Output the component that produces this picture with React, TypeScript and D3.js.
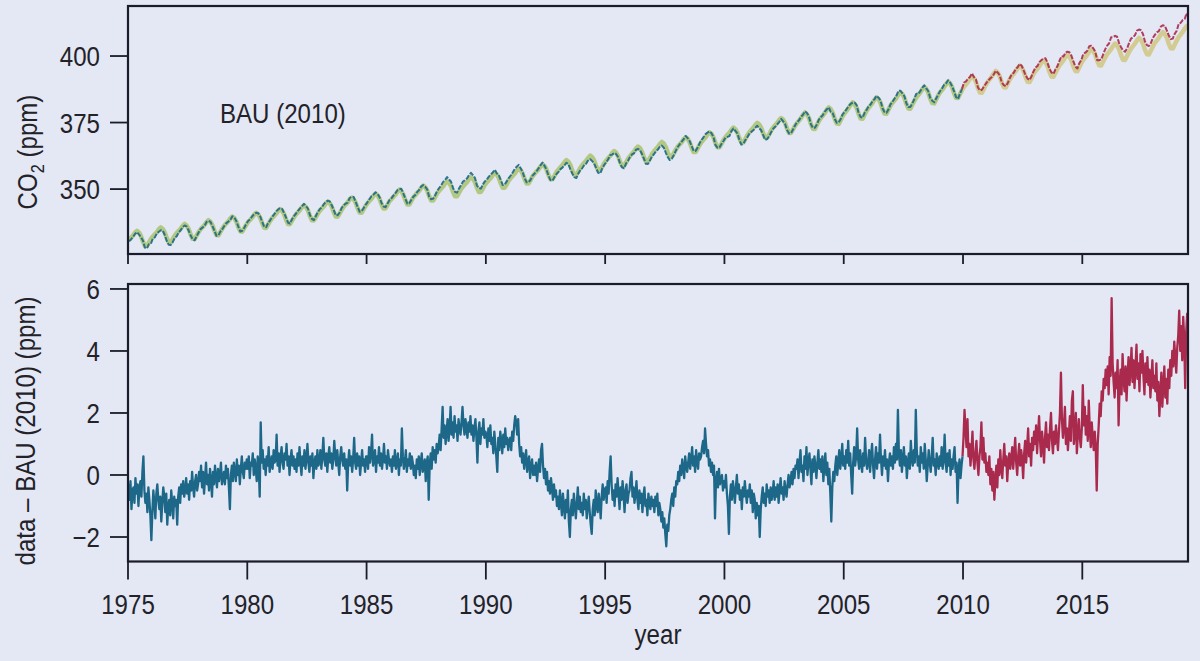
import React from "react";
import * as d3 from "d3";

const START_YEAR = 1975;
const SPLIT_YEAR = 2010;

// BAU (2010) model, monthly values (ppm), one row per year, Jan..Dec
const bauMonthly: number[] = [
  330.9, 331.7, 332.5, 333.6, 334.3, 333.7, 332.4, 330.3, 328.7, 328.6, 329.9, 331.2,
  332.2, 333.0, 333.8, 334.9, 335.6, 335.0, 333.7, 331.6, 330.0, 329.9, 331.2, 332.5,
  333.5, 334.3, 335.1, 336.2, 336.9, 336.3, 335.0, 332.9, 331.3, 331.2, 332.5, 333.8,
  334.9, 335.7, 336.5, 337.6, 338.3, 337.7, 336.4, 334.3, 332.7, 332.6, 333.9, 335.2,
  336.3, 337.1, 337.9, 339.0, 339.7, 339.1, 337.8, 335.7, 334.1, 334.0, 335.3, 336.6,
  337.7, 338.5, 339.3, 340.4, 341.1, 340.5, 339.2, 337.1, 335.5, 335.4, 336.7, 338.0,
  339.1, 339.9, 340.7, 341.8, 342.5, 341.9, 340.6, 338.5, 336.9, 336.8, 338.1, 339.4,
  340.5, 341.3, 342.1, 343.2, 343.9, 343.3, 342.0, 339.9, 338.3, 338.2, 339.5, 340.8,
  341.9, 342.7, 343.5, 344.6, 345.3, 344.7, 343.4, 341.3, 339.7, 339.6, 340.9, 342.2,
  343.4, 344.2, 345.0, 346.1, 346.8, 346.2, 344.9, 342.8, 341.2, 341.1, 342.4, 343.7,
  344.7, 345.6, 346.4, 347.5, 348.3, 347.7, 346.4, 344.3, 342.7, 342.7, 344.0, 345.4,
  346.2, 347.1, 347.9, 349.0, 349.8, 349.2, 347.9, 345.8, 344.2, 344.2, 345.5, 346.9,
  347.7, 348.6, 349.4, 350.5, 351.3, 350.7, 349.4, 347.3, 345.7, 345.7, 347.0, 348.4,
  349.3, 350.2, 351.0, 352.1, 352.9, 352.3, 351.0, 348.9, 347.3, 347.3, 348.6, 350.0,
  350.9, 351.8, 352.6, 353.7, 354.5, 353.9, 352.6, 350.5, 348.9, 348.9, 350.2, 351.6,
  352.5, 353.4, 354.2, 355.3, 356.1, 355.5, 354.2, 352.1, 350.5, 350.5, 351.8, 353.2,
  354.1, 355.0, 355.8, 356.9, 357.7, 357.1, 355.8, 353.7, 352.1, 352.1, 353.4, 354.8,
  355.7, 356.6, 357.4, 358.5, 359.3, 358.7, 357.4, 355.3, 353.7, 353.7, 355.0, 356.4,
  357.3, 358.2, 359.0, 360.1, 360.9, 360.3, 359.0, 356.9, 355.3, 355.3, 356.6, 358.0,
  359.0, 359.9, 360.7, 361.8, 362.6, 362.0, 360.7, 358.6, 357.0, 357.0, 358.3, 359.7,
  360.7, 361.6, 362.4, 363.5, 364.3, 363.7, 362.4, 360.3, 358.7, 358.7, 360.0, 361.4,
  362.4, 363.3, 364.1, 365.2, 366.0, 365.4, 364.1, 362.0, 360.4, 360.4, 361.7, 363.1,
  364.1, 365.0, 365.8, 366.9, 367.7, 367.1, 365.8, 363.7, 362.1, 362.1, 363.4, 364.8,
  365.9, 366.8, 367.6, 368.7, 369.5, 368.9, 367.6, 365.5, 363.9, 363.9, 365.2, 366.6,
  367.7, 368.6, 369.4, 370.5, 371.3, 370.7, 369.4, 367.3, 365.7, 365.7, 367.0, 368.4,
  369.5, 370.4, 371.2, 372.3, 373.1, 372.5, 371.2, 369.1, 367.5, 367.5, 368.8, 370.2,
  371.3, 372.2, 373.0, 374.1, 374.9, 374.3, 373.0, 370.9, 369.3, 369.3, 370.6, 372.0,
  373.1, 374.0, 374.8, 375.9, 376.7, 376.1, 374.8, 372.7, 371.1, 371.1, 372.4, 373.8,
  374.8, 375.7, 376.7, 377.9, 378.8, 378.1, 376.7, 374.4, 372.7, 372.6, 374.1, 375.6,
  376.7, 377.6, 378.6, 379.8, 380.7, 380.0, 378.6, 376.3, 374.6, 374.5, 376.0, 377.5,
  378.6, 379.5, 380.5, 381.7, 382.6, 381.9, 380.5, 378.2, 376.5, 376.4, 377.9, 379.4,
  380.5, 381.4, 382.4, 383.6, 384.5, 383.8, 382.4, 380.1, 378.4, 378.3, 379.8, 381.3,
  382.4, 383.3, 384.3, 385.5, 386.4, 385.7, 384.3, 382.0, 380.3, 380.2, 381.7, 383.2,
  384.4, 385.3, 386.3, 387.5, 388.4, 387.7, 386.3, 384.0, 382.3, 382.2, 383.7, 385.2,
  386.4, 387.3, 388.3, 389.5, 390.4, 389.7, 388.3, 386.0, 384.3, 384.2, 385.7, 387.2,
  388.4, 389.3, 390.3, 391.5, 392.4, 391.7, 390.3, 388.0, 386.3, 386.2, 387.7, 389.2,
  390.4, 391.3, 392.3, 393.5, 394.4, 393.7, 392.3, 390.0, 388.3, 388.2, 389.7, 391.2,
  392.4, 393.3, 394.3, 395.5, 396.4, 395.7, 394.3, 392.0, 390.3, 390.2, 391.7, 393.2,
  394.4, 395.3, 396.3, 397.5, 398.4, 397.7, 396.3, 394.0, 392.3, 392.2, 393.7, 395.2,
  396.5, 397.4, 398.4, 399.6, 400.5, 399.8, 398.4, 396.1, 394.4, 394.3, 395.8, 397.3,
  398.6, 399.5, 400.5, 401.7, 402.6, 401.9, 400.5, 398.2, 396.5, 396.4, 397.9, 399.4,
  400.7, 401.6, 402.6, 403.8, 404.7, 404.0, 402.6, 400.3, 398.6, 398.5, 400.0, 401.5,
  402.8, 403.7, 404.7, 405.9, 406.8, 406.1, 404.7, 402.4, 400.7, 400.6, 402.1, 403.6,
  405.0, 405.9, 406.9, 408.1, 409.0, 408.3, 406.9, 404.6, 402.9, 402.8, 404.3, 405.8,
  407.2, 408.1, 409.1, 410.3, 411.2, 410.5,
];

// data − BAU (2010) residual (ppm), two values per month, one row per year
const residualSemiMonthly: number[] = [
  -0.3, -0.8, -0.2, -1.1, -0.5, -0.4, -0.9, -0.1, -0.6, -0.3, -1.0, -0.4, -0.2, -0.7, 0.1, 0.6, -0.5, -0.9, -0.6, -1.2, -0.4, -0.8, -1.3, -2.1,
  -1.2, -0.5, -0.9, -1.4, -0.6, -0.3, -0.8, -1.1, -0.7, -1.5, -0.9, -0.4, -0.7, -1.2, -0.6, -1.6, -1.0, -0.8, -1.3, -0.5, -0.9, -1.4, -0.7, -1.0,
  -0.8, -1.6, -0.7, -0.4, -0.9, -0.3, -0.6, -0.2, -0.7, -0.5, -0.1, -0.6, -0.3, -0.8, -0.2, -0.5, 0.1, -0.4, -0.7, -0.2, 0.0, -0.5, -0.3, 0.1,
  -0.2, 0.3, -0.4, 0.1, -0.6, -0.1, 0.4, -0.3, 0.0, -0.5, 0.2, -0.2, -0.7, 0.1, -0.3, 0.3, -0.1, -0.4, 0.2, -0.2, 0.0, 0.4, -0.3, -0.1,
  0.1, -0.3, 0.3, -0.1, 0.2, -0.4, -1.1, 0.0, 0.3, -0.2, 0.4, 0.1, -0.2, 0.5, 0.0, 0.3, -0.3, 0.2, 0.6, 0.1, -0.1, 0.4, 0.2, 0.5,
  0.2, 0.6, -0.1, 0.4, 0.3, 0.7, 0.0, 0.5, 0.2, -0.2, 0.6, 0.3, -0.7, 1.7, 0.4, 0.8, 0.2, 0.5, 0.0, 0.6, 0.3, 0.9, 0.1, 0.4,
  0.6, 0.2, 0.8, 0.4, 0.5, 1.3, 0.3, 0.7, 0.1, 0.6, 0.9, 0.4, 0.2, 0.7, 0.5, 1.0, 0.3, 0.6, 0.0, 0.5, 0.8, 0.3, 0.6, 0.2,
  0.5, 0.1, 0.7, 0.3, 0.9, 0.4, 0.0, 0.6, 0.3, 0.8, 0.2, 0.5, 1.0, 0.4, 0.1, 0.6, 0.3, 0.7, -0.1, 0.4, 0.6, 0.2, 0.8, 0.3,
  0.4, 0.8, 0.2, 0.6, 1.2, 0.5, 0.3, 0.7, 0.1, 0.6, 0.9, 0.4, 0.7, 0.2, 0.5, 1.1, 0.6, 0.3, 0.8, 0.4, 0.0, 0.6, 0.9, 0.5,
  0.3, 0.7, 0.2, 0.5, -0.5, 0.4, 0.8, 0.3, 0.6, 0.1, 0.5, 1.2, 0.4, 0.2, 0.7, 0.3, 0.6, 0.0, 0.4, 0.8, 0.3, 0.5, 0.1, 0.6,
  0.6, 0.2, 0.9, 0.4, 0.7, 1.3, 0.3, 0.5, 0.8, 0.1, 0.6, 0.4, 0.9, 0.3, 0.7, 0.2, 0.5, 1.0, 0.4, 0.6, 0.2, 0.8, 0.5, 0.3,
  0.5, 0.1, 0.6, 0.3, 0.8, 0.2, 0.4, 0.7, 0.0, 0.5, 0.3, 1.5, 0.6, 0.2, 0.4, 0.8, 0.1, 0.5, 0.3, 0.7, 0.2, 0.6, 0.4, 0.0,
  0.3, -0.1, 0.5, 0.2, 0.6, 0.0, 0.4, 0.7, 0.1, 0.3, 0.5, -0.2, 0.4, 0.6, -0.8, 0.3, 0.7, 0.2, 0.9, 0.5, 0.8, 0.4, 1.0, 0.7,
  0.9, 1.3, 0.8, 1.5, 2.2, 1.2, 1.6, 1.0, 1.4, 1.8, 1.1, 1.5, 2.2, 1.3, 1.7, 1.2, 1.9, 1.4, 1.6, 1.1, 1.8, 1.5, 1.3, 1.7,
  2.2, 1.6, 1.3, 1.8, 1.5, 1.2, 1.7, 1.4, 1.9, 1.3, 1.6, 1.1, 1.5, 1.8, 1.2, 0.4, 1.4, 1.7, 1.0, 1.5, 1.3, 1.8, 1.2, 1.4,
  1.3, 0.9, 1.5, 1.1, 1.6, 1.0, 1.2, 0.7, 1.4, 1.0, 0.6, 0.1, 1.2, 0.8, 1.4, 1.1, 0.7, 1.3, 0.9, 1.5, 1.0, 1.2, 0.8, 1.1,
  1.2, 0.8, 1.4, 1.1, 1.6, 1.9, 1.7, 1.3, 1.8, 1.0, 0.6, 0.9, 0.4, 0.7, 0.2, 0.5, 0.8, 0.1, 0.4, 0.6, -0.1, 0.3, 0.5, 0.0,
  0.3, 0.0, 0.4, -0.2, 0.2, 0.5, 0.1, 0.8, 1.0, 0.3, -0.1, 0.2, -0.3, 0.1, -0.5, -0.2, -0.6, -0.1, -0.4, -0.8, -0.3, -0.7, -0.5, -1.0,
  -0.7, -1.1, -0.5, -0.9, -1.3, -0.6, -1.0, -1.4, -0.8, -1.2, -0.5, -1.5, -2.0, -1.1, -0.8, -1.3, -0.6, -1.0, -1.4, -0.9, -0.4, -1.1, -0.7, -1.2,
  -0.9, -1.3, -0.6, -1.1, -0.8, -1.4, -1.0, -0.7, -1.2, -1.6, -1.9, -1.1, -0.8, -1.3, -0.5, -1.0, -1.2, -0.6, -0.9, -1.4, -0.7, -0.3, -0.8, -0.5,
  -0.4, -0.9, -0.2, -0.6, 0.1, 0.6, -0.3, -0.8, -0.5, -1.0, -0.3, -0.7, -0.1, -0.6, -1.1, -0.4, -0.8, -0.2, -0.6, -1.2, -0.5, -0.3, -0.9, -0.6,
  -0.5, -0.1, 0.1, -0.7, -0.4, -0.9, -0.6, -0.2, -0.8, -1.1, -0.5, -0.9, -0.6, -1.2, -0.7, -0.4, -1.0, -0.8, -1.3, -0.6, -0.9, -1.1, -0.7, -1.0,
  -0.8, -1.2, -0.7, -1.0, -0.6, -1.3, -0.9, -1.1, -1.5, -1.2, -1.7, -1.4, -1.9, -2.3, -1.6, -1.8, -1.3, -1.1, -0.8, -0.6, -1.0, -0.4, -0.7, -0.2,
  -0.3, 0.1, -0.2, 0.3, 0.0, 0.5, 0.2, -0.1, 0.6, 0.3, 0.1, 0.4, 0.7, 0.2, 0.5, 0.9, 0.3, 0.6, 0.1, 0.8, 0.4, 0.2, 0.7, 0.5,
  0.6, 0.9, 1.1, 0.7, 1.5, 1.0, 0.6, 0.8, 0.3, 0.5, 0.1, 0.4, 0.0, 0.3, -1.4, -0.2, 0.1, -0.4, 0.2, -0.3, -0.1, 0.0, -0.5, -0.2,
  -0.4, 0.0, -0.6, -1.0, -1.9, -0.7, -0.3, -0.8, -0.2, -0.5, -0.9, -0.4, 0.0, -0.6, -0.3, -0.8, -0.5, -1.1, -0.4, -0.7, -0.2, -0.6, -0.9, -0.5,
  -0.7, -0.3, -0.9, -0.5, -1.2, -0.6, -0.8, -1.4, -0.9, -1.3, -1.0, -2.0, -1.1, -0.7, -0.4, -0.9, -0.6, -1.0, -0.3, -0.7, -0.5, -0.9, -0.4, -0.8,
  -0.6, -0.2, -0.8, -0.4, -0.7, -0.3, -0.9, -0.5, -0.1, -0.6, -0.4, -0.8, -0.2, -0.5, -0.7, -0.3, 0.0, -0.4, -0.2, 0.1, -0.3, 0.2, -0.1, 0.3,
  0.2, 0.5, -0.1, 0.4, 0.8, 0.1, 0.3, -0.2, 0.6, 0.2, 0.9, 0.0, 0.4, 0.7, 0.2, -0.3, 0.5, 0.1, 0.6, 0.3, -0.1, 0.4, 0.8, 0.2,
  0.5, 0.1, 0.6, -0.2, 0.3, 0.7, 0.0, 0.4, -0.3, 0.2, -0.6, -1.5, -0.4, 0.1, -0.2, 0.3, 0.6, 0.0, 0.4, 0.8, 0.2, 0.5, 1.0, 0.3,
  0.6, 0.2, 0.8, 0.4, 1.1, 0.3, 0.7, 0.0, -0.6, 0.4, 0.9, 0.3, 0.6, 1.5, 0.5, 0.2, 0.8, 0.4, 0.1, 0.7, 0.3, 1.2, 0.5, 0.2,
  0.4, 0.8, 0.1, 0.6, 1.0, 0.3, -0.1, 0.5, 0.9, 0.2, 0.7, 0.4, 1.3, 0.5, 0.0, 0.6, 0.3, 0.8, 0.2, 0.5, -0.2, 0.4, 0.7, 0.3,
  0.6, 0.2, 0.9, 0.4, 1.0, 0.5, 2.1, 0.7, 0.3, 0.8, 0.1, 0.5, 0.9, 0.3, 0.6, -0.1, 0.4, 0.7, 0.2, 1.1, 0.5, 0.3, 0.8, 0.4,
  2.1, 0.8, 0.3, 0.6, 0.1, 0.9, 0.4, 0.7, 0.2, 1.0, 0.5, -0.2, 0.3, 0.8, 0.4, 0.1, 0.6, 1.2, 0.3, 0.5, 0.0, 0.7, 0.4, 0.2,
  0.6, 0.3, 0.9, 0.2, 0.5, 1.3, 0.4, 0.1, 0.7, 0.3, 0.8, 0.0, 0.5, 0.2, 0.6, 0.9, 0.1, 0.4, -0.9, 0.2, 0.5, -0.1, 0.3, 0.6,
  1.2, 2.1, 1.5, 0.9, 1.8, 0.6, 1.0, 0.3, 0.8, 1.4, 0.5, 0.2, 0.7, 1.1, 0.4, 0.0, 0.6, 0.9, 1.7, 0.5, 1.2, 0.4, 0.7, 0.1,
  0.4, 0.0, 0.6, -0.3, 0.2, -0.5, 0.1, -0.8, -0.2, 0.3, -0.4, 0.5, 0.0, 0.8, 0.2, -0.1, 0.5, 1.0, 0.3, 0.6, -0.2, 0.4, 0.7, 0.2,
  0.5, 0.9, 0.2, 0.7, 1.2, 0.4, 0.0, 0.6, 1.0, 0.3, 0.8, 0.5, -0.1, 0.7, 1.1, 0.4, 0.9, 1.5, 0.6, 1.0, 0.3, 1.2, 0.8, 1.4,
  1.0, 1.6, 0.7, 1.3, 1.9, 1.1, 0.6, 1.4, 1.0, 0.4, 1.2, 1.7, 0.9, 1.3, 0.8, 1.5, 2.0, 1.1, 0.7, 1.4, 1.0, 1.6, 1.2, 0.8,
  1.4, 2.0, 3.3, 1.8, 1.2, 1.6, 2.2, 1.0, 1.5, 0.8, 1.3, 1.9, 1.1, 2.4, 2.7, 1.0, 1.4, 2.0, 0.7, 1.3, 1.8, 1.2, 0.9, 1.5,
  2.9, 1.6, 2.2, 1.3, 1.9, 1.1, 2.4, 1.5, 0.9, 1.7, 1.2, 0.8, 1.4, 0.9, -0.5, 1.0, 1.6, 2.3, 1.9, 2.7, 2.4, 3.1, 2.8, 3.4,
  2.9, 3.5, 2.6, 3.8, 3.2, 5.7, 3.6, 3.0, 2.5, 3.3, 2.8, 3.7, 1.6, 2.9, 3.4, 2.6, 3.9, 3.1, 2.7, 3.5, 2.4, 3.2, 3.8, 2.9,
  3.4, 4.1, 3.0, 3.7, 2.8, 3.5, 4.2, 3.1, 3.6, 2.7, 3.9, 3.3, 4.0, 3.2, 2.6, 3.6, 3.0, 3.8, 2.9, 3.4, 2.5, 3.1, 3.7, 2.8,
  3.2, 2.7, 3.6, 2.4, 3.0, 1.9, 2.6, 3.3, 2.2, 2.9, 3.5, 2.5, 3.1, 2.3, 3.4, 2.8, 3.7, 3.2, 4.0, 3.5, 4.3, 3.8, 3.3, 4.1,
  4.5, 5.3, 4.0, 4.8, 3.7, 5.1, 4.4, 2.8, 4.6, 5.2, 4.1,
];

const yearTicks = [1975, 1980, 1985, 1990, 1995, 2000, 2005, 2010, 2015];
const co2Ticks = [350, 375, 400];
const residualTicks = [-2, 0, 2, 4, 6];

const BG = "#e4e7f4";
const FRAME = "#1b1c2a";
const TEXT = "#222228";
const BLUE = "#1d6889";
const RED = "#aa2a4e";
const BAU_PRE = "#b3c983";
const BAU_POST = "#d2cb92";
const FONT = "'Liberation Sans', Arial, sans-serif";
const SX = 0.86; // horizontal condensing of the condensed sans used in the figure

type Pt = { t: number; v: number };

function Label(props: {
  x: number; y: number; size?: number; anchor?: "start" | "middle" | "end";
  rotate?: boolean; children: React.ReactNode;
}) {
  const { x, y, size = 28, anchor = "start", rotate = false, children } = props;
  return (
    <g transform={`translate(${x},${y})${rotate ? " rotate(-90)" : ""} scale(${SX},1)`}>
      <text x={0} y={0} textAnchor={anchor} fontFamily={FONT} fontSize={size} fill={TEXT}>{children}</text>
    </g>
  );
}

export default function App() {
  const W = 1200;
  const H = 661;
  const L = 128, R = 1188;
  const T1 = 6, B1 = 254;
  const T2 = 284, B2 = 561.5;

  const x = d3.scaleLinear().domain([1975, 2019.43]).range([L, R]);
  const yTop = d3.scaleLinear().domain([325.6, 418.8]).range([B1, T1]);
  const yBot = d3.scaleLinear().domain([-2.79, 6.16]).range([B2, T2]);

  const residual: Pt[] = residualSemiMonthly.map((v, i) => ({ t: START_YEAR + (i + 0.5) / 24, v }));
  const model: Pt[] = bauMonthly.map((v, i) => ({ t: START_YEAR + (i + 0.5) / 12, v }));
  const observed: Pt[] = bauMonthly.map((v, i) => {
    const a = residualSemiMonthly[2 * i];
    const b = residualSemiMonthly[2 * i + 1];
    const r = b === undefined ? a : (a + b) / 2;
    return { t: START_YEAR + (i + 0.5) / 12, v: v + r };
  });

  const splitIdx = (arr: Pt[]) => arr.findIndex((p) => p.t >= SPLIT_YEAR);
  const pre = (arr: Pt[]) => arr.slice(0, splitIdx(arr));
  const post = (arr: Pt[]) => arr.slice(Math.max(0, splitIdx(arr) - 1));

  const lineTop = d3.line<Pt>().x((d) => x(d.t)).y((d) => yTop(d.v));
  const lineBot = d3.line<Pt>().x((d) => x(d.t)).y((d) => yBot(d.v));

  return (
    <svg width={W} height={H} style={{ display: "block", position: "absolute", left: 0, top: 0, background: BG }}>
      <rect x={0} y={0} width={W} height={H} fill={BG} />
      <defs>
        <clipPath id="clipTop"><rect x={L} y={T1} width={R - L} height={B1 - T1} /></clipPath>
        <clipPath id="clipBot"><rect x={L} y={T2} width={R - L} height={B2 - T2} /></clipPath>
      </defs>

      {/* top panel lines */}
      <g clipPath="url(#clipTop)" fill="none" strokeLinejoin="round">
        <path d={lineTop(pre(model)) || ""} stroke={BAU_PRE} strokeWidth={4.5} />
        <path d={lineTop(post(model)) || ""} stroke={BAU_POST} strokeWidth={4.5} />
        <path d={lineTop(pre(observed)) || ""} stroke={BLUE} strokeWidth={2} strokeDasharray="5 1.5" opacity={0.9} />
        <path d={lineTop(post(observed)) || ""} stroke={RED} strokeWidth={2} strokeDasharray="5 1.5" opacity={0.9} />
      </g>

      {/* bottom panel lines */}
      <g clipPath="url(#clipBot)" fill="none" strokeLinejoin="round">
        <path d={lineBot(pre(residual)) || ""} stroke={BLUE} strokeWidth={2.3} />
        <path d={lineBot(post(residual)) || ""} stroke={RED} strokeWidth={2.3} />
      </g>

      {/* frames */}
      <rect x={L} y={T1} width={R - L} height={B1 - T1} fill="none" stroke={FRAME} strokeWidth={2.2} />
      <rect x={L} y={T2} width={R - L} height={B2 - T2} fill="none" stroke={FRAME} strokeWidth={2.2} />

      {/* top panel axes */}
      {co2Ticks.map((v) => (
        <g key={"c" + v}>
          <line x1={L - 18} x2={L} y1={yTop(v)} y2={yTop(v)} stroke={FRAME} strokeWidth={1.8} />
          <Label x={100} y={yTop(v) + 10} anchor="end">{v}</Label>
        </g>
      ))}
      {yearTicks.map((v) => (
        <line key={"tx" + v} x1={x(v)} x2={x(v)} y1={B1} y2={B1 + 10} stroke={FRAME} strokeWidth={1.8} />
      ))}
      <Label x={220} y={123}>BAU (2010)</Label>
      <g transform={`translate(37,152) rotate(-90) scale(${SX},1)`}>
        <text x={0} y={0} textAnchor="middle" fontFamily={FONT} fontSize={28} fill={TEXT}>
          CO<tspan fontSize={19} dy={7}>2</tspan><tspan dy={-7}> (ppm)</tspan>
        </text>
      </g>

      {/* bottom panel axes */}
      {residualTicks.map((v) => (
        <g key={"r" + v}>
          <line x1={L - 18} x2={L} y1={yBot(v)} y2={yBot(v)} stroke={FRAME} strokeWidth={1.8} />
          <Label x={100} y={yBot(v) + 10} anchor="end">{v < 0 ? "\u2212" + Math.abs(v) : String(v)}</Label>
        </g>
      ))}
      {yearTicks.map((v) => (
        <g key={"bx" + v}>
          <line x1={x(v)} x2={x(v)} y1={B2} y2={B2 + 18} stroke={FRAME} strokeWidth={1.8} />
          <Label x={x(v)} y={614} anchor="middle">{v}</Label>
        </g>
      ))}
      <Label x={35} y={431} anchor="middle" rotate>data – BAU (2010) (ppm)</Label>
      <Label x={(L + R) / 2} y={644} anchor="middle">year</Label>
    </svg>
  );
}
